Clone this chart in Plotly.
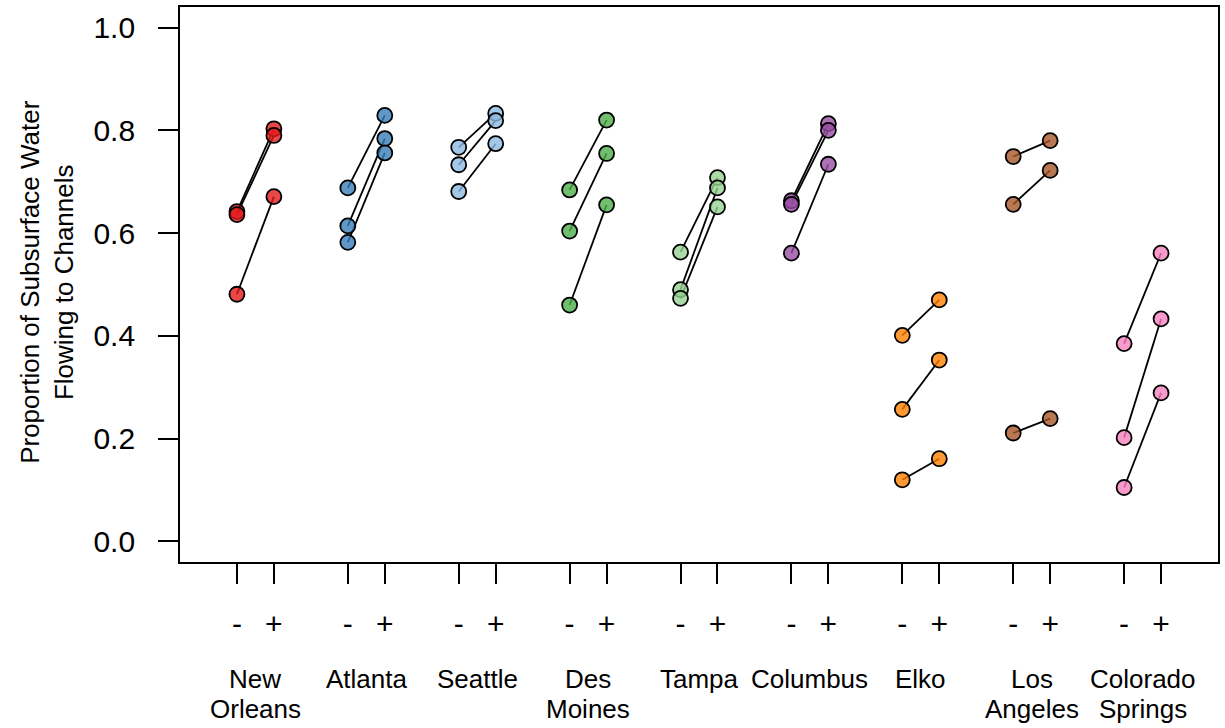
import plotly.graph_objects as go

# ---- data ----
cities = ["New Orleans", "Atlanta", "Seattle", "Des Moines", "Tampa",
          "Columbus", "Elko", "Los Angeles", "Colorado Springs"]

# values without (-) and with (+), paired by index within each city
minus_vals = [
    [0.642, 0.636, 0.481],
    [0.688, 0.614, 0.582],
    [0.767, 0.733, 0.681],
    [0.684, 0.604, 0.460],
    [0.563, 0.490, 0.473],
    [0.663, 0.656, 0.561],
    [0.401, 0.257, 0.120],
    [0.749, 0.656, 0.211],
    [0.385, 0.202, 0.105],
]
plus_vals = [
    [0.803, 0.790, 0.671],
    [0.829, 0.784, 0.756],
    [0.833, 0.819, 0.774],
    [0.820, 0.755, 0.655],
    [0.708, 0.688, 0.651],
    [0.813, 0.800, 0.734],
    [0.470, 0.353, 0.161],
    [0.780, 0.722, 0.239],
    [0.561, 0.433, 0.289],
]
colors = [
    "rgba(228,26,28,0.8)",
    "rgba(55,126,184,0.8)",
    "rgba(140,185,225,0.8)",
    "rgba(77,175,74,0.8)",
    "rgba(150,210,145,0.8)",
    "rgba(152,78,163,0.8)",
    "rgba(255,127,0,0.8)",
    "rgba(166,86,40,0.8)",
    "rgba(247,129,191,0.8)",
]
sign_labels = ["-", "+"]
y_ticks = [0.0, 0.2, 0.4, 0.6, 0.8, 1.0]

FONT = "Liberation Sans, Arial, sans-serif"

fig = go.Figure()
tickvals, ticktext = [], []
for i, city in enumerate(cities):
    xm, xp = 3 * i + 1, 3 * i + 2
    tickvals += [xm, xp]
    ticktext += sign_labels
    lx, ly = [], []
    for a, b in zip(minus_vals[i], plus_vals[i]):
        lx += [xm, xp, None]
        ly += [a, b, None]
    fig.add_trace(go.Scatter(x=lx, y=ly, mode="lines",
                             line=dict(color="black", width=1.8),
                             hoverinfo="skip", showlegend=False))
    px = [xm] * len(minus_vals[i]) + [xp] * len(plus_vals[i])
    py = list(minus_vals[i]) + list(plus_vals[i])
    fig.add_trace(go.Scatter(x=px, y=py, mode="markers",
                             marker=dict(size=15, color=colors[i],
                                         line=dict(color="black", width=1.8)),
                             name=city, showlegend=False))
    # city label (one word per line)
    words = city.split(" ")
    for k, w in enumerate(words):
        fig.add_annotation(x=(xm + xp) / 2, xref="x", y=-0.21 - k * 0.0555,
                           yref="paper", text=w, showarrow=False,
                           xanchor="center", yanchor="middle",
                           font=dict(family=FONT, size=26, color="black"))

fig.add_annotation(x=-0.128, xref="paper", y=0.505, yref="paper",
                   text="Proportion of Subsurface Water<br>Flowing to Channels",
                   textangle=-90, showarrow=False, xanchor="center",
                   yanchor="middle",
                   font=dict(family=FONT, size=26, color="black"))

fig.update_layout(
    width=1225, height=728,
    margin=dict(l=180, r=7, t=5, b=166),
    plot_bgcolor="white", paper_bgcolor="white",
    font=dict(family=FONT, color="black"),
    xaxis=dict(range=[-0.54, 27.54], tickvals=tickvals, ticktext=ticktext,
               ticks="outside", ticklen=20, tickwidth=1.6, tickcolor="black",
               showline=True, mirror=True, linecolor="black", linewidth=1.8,
               showgrid=False, zeroline=False, ticklabelstandoff=14,
               tickfont=dict(family=FONT, size=30, color="black")),
    yaxis=dict(range=[-0.04, 1.04], tickvals=y_ticks,
               ticktext=[f"{v:.1f}" for v in y_ticks],
               ticks="outside", ticklen=20, tickwidth=1.6, tickcolor="black",
               showline=True, mirror=True, linecolor="black", linewidth=1.8,
               showgrid=False, zeroline=False, ticklabelstandoff=17,
               tickfont=dict(family=FONT, size=30, color="black")),
)

fig.write_html("out.html")
